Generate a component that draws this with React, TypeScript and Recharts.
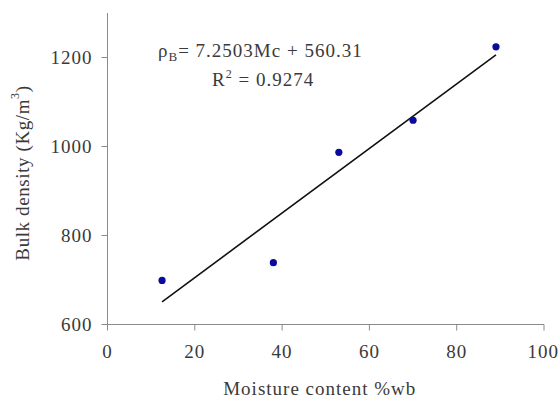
import { ScatterChart, Scatter, XAxis, YAxis, Label, Customized } from "recharts";

// measured points (moisture content %wb, bulk density kg/m3)
const moisture = [12.5, 38, 53, 70, 89];
const density = [699, 739, 987, 1059, 1224];

// fitted line endpoints
const trendX = [12.5, 89];
const trendY = [651, 1206];

const xTicks = [0, 20, 40, 60, 80, 100];
const yTicks = [600, 800, 1000, 1200];

const points = moisture.map((x, i) => ({ x, y: density[i] }));
const trend = trendX.map((x, i) => ({ x, y: trendY[i] }));

const font = "'Liberation Serif', 'Times New Roman', serif";
const textColor = "#3a3a3a";
const axisColor = "#8a8a8a";

const Dot = (props: any) => (
  <circle cx={props.cx} cy={props.cy} r={3.6} fill="#0a0a9c" />
);

const Nothing = () => <g />;

const YTitle = (props: any) => {
  const vb = props.viewBox;
  const cx = vb.x + 22;
  const cy = vb.y + 160;
  return (
    <text
      x={cx}
      y={cy}
      transform={`rotate(-90 ${cx} ${cy})`}
      textAnchor="middle"
      dominantBaseline="central"
      fill={textColor}
      fontFamily={font}
      fontSize={19}
      letterSpacing={0.6}
    >
      Bulk density (Kg/m
      <tspan dy={-7} fontSize={12}>
        3
      </tspan>
      <tspan dy={7}>)</tspan>
    </text>
  );
};

const XTitle = (props: any) => {
  const vb = props.viewBox;
  return (
    <text
      x={vb.x + vb.width / 2 - 6}
      y={395}
      textAnchor="middle"
      fill={textColor}
      fontFamily={font}
      fontSize={19}
      letterSpacing={1}
    >
      Moisture content %wb
    </text>
  );
};

const Equation = () => (
  <g fill={textColor} fontFamily={font} fontSize={19} letterSpacing={1}>
    <text x={158} y={57}>
      ρ
      <tspan dy={4} fontSize={13}>
        B
      </tspan>
      <tspan dy={-4}>= 7.2503Mc + 560.31</tspan>
    </text>
    <text x={212} y={86}>
      R
      <tspan dy={-8} fontSize={12}>
        2
      </tspan>
      <tspan dy={8}> = 0.9274</tspan>
    </text>
  </g>
);

export default function App() {
  return (
    <div style={{ position: "absolute", left: 0, top: 0, background: "#fff" }}>
      <ScatterChart
        width={559}
        height={400}
        margin={{ top: 13, right: 15, bottom: 0, left: 0 }}
      >
        <XAxis
          type="number"
          dataKey="x"
          domain={[0, 100]}
          ticks={xTicks}
          height={75.5}
          stroke={axisColor}
          tickSize={6}
          tickMargin={14}
          tick={{ fill: textColor, fontFamily: font, fontSize: 19, letterSpacing: 1 }}
        >
          <Label content={<XTitle />} />
        </XAxis>
        <YAxis
          type="number"
          dataKey="y"
          domain={[600, 1300]}
          ticks={yTicks}
          width={107.5}
          stroke={axisColor}
          tickSize={6}
          tickMargin={9}
          tick={{ fill: textColor, fontFamily: font, fontSize: 19, letterSpacing: 1 }}
        >
          <Label content={<YTitle />} />
        </YAxis>
        <Scatter
          data={trend}
          line={{ stroke: "#111", strokeWidth: 1.6 }}
          shape={<Nothing />}
          isAnimationActive={false}
        />
        <Scatter data={points} shape={<Dot />} isAnimationActive={false} />
        <Customized component={<Equation />} />
      </ScatterChart>
    </div>
  );
}
